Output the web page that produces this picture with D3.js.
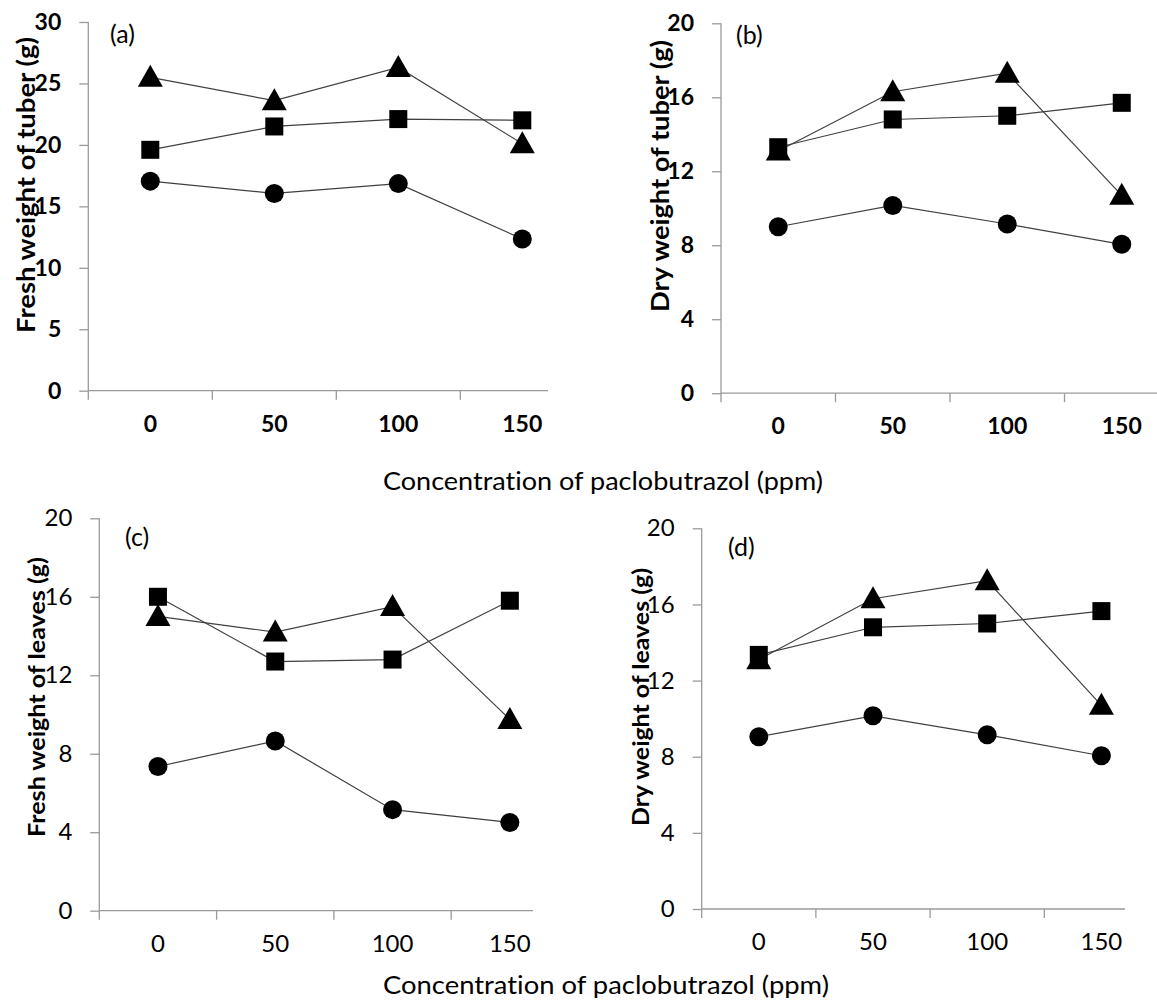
<!DOCTYPE html>
<html>
<head>
<meta charset="utf-8">
<script src="https://cdn.jsdelivr.net/npm/d3@7"></script>
<style>
  html, body { margin: 0; padding: 0; background: #fff; }
  svg { display: block; }
  text { font-family: Lato, "Open Sans", sans-serif; fill: #000; font-variant-ligatures: none; }
</style>
</head>
<body>
<div id="chart"></div>
<script>
// categorias do eixo x (ppm)
const concentrations = ["0", "50", "100", "150"];

// (a) peso fresco do tubérculo
const freshTuberCircle   = [17.05, 16.05, 16.85, 12.35];
const freshTuberSquare   = [19.6, 21.5, 22.1, 22.0];
const freshTuberTriangle = [25.5, 23.6, 26.3, 20.1];

// (b) peso seco do tubérculo
const dryTuberCircle   = [9.0, 10.15, 9.15, 8.05];
const dryTuberSquare   = [13.3, 14.8, 15.0, 15.7];
const dryTuberTriangle = [13.1, 16.3, 17.3, 10.7];

// (c) peso fresco das folhas
const freshLeafCircle   = [7.35, 8.65, 5.15, 4.5];
const freshLeafSquare   = [16.0, 12.7, 12.8, 15.8];
const freshLeafTriangle = [15.0, 14.2, 15.5, 9.75];

// (d) peso seco das folhas
const dryLeafCircle   = [9.05, 10.15, 9.15, 8.05];
const dryLeafSquare   = [13.35, 14.8, 15.0, 15.65];
const dryLeafTriangle = [13.1, 16.3, 17.25, 10.7];

const ticksTuberFresh = [0, 5, 10, 15, 20, 25, 30];
const ticks20 = [0, 4, 8, 12, 16, 20];

const xTitle = "Concentration of paclobutrazol (ppm)";

const W = 1157, H = 1000;
const svg = d3.select('#chart').append('svg')
    .attr('width', W).attr('height', H);

const panels = [
    { tag: '(a)', title: 'Fresh weight of tuber (g)', ticks: ticksTuberFresh, max: 30,
      x0: 88.3, band: 124, xEnd: 548, y0: 390.7, yTop: 22, bold: true,
      tagX: 110, tagY: 43, titleX: 35, titleY: 185, titleLen: 296, titleSize: 24,
      circle: freshTuberCircle, square: freshTuberSquare, triangle: freshTuberTriangle },
    { tag: '(b)', title: 'Dry weight of tuber (g)', ticks: ticks20, max: 20,
      x0: 721, band: 114.5, xEnd: 1157, y0: 393.2, yTop: 23.3, bold: true,
      tagX: 736, tagY: 44, titleX: 669, titleY: 176, titleLen: 272, titleSize: 24,
      circle: dryTuberCircle, square: dryTuberSquare, triangle: dryTuberTriangle },
    { tag: '(c)', title: 'Fresh weight of leaves (g)', ticks: ticks20, max: 20,
      x0: 99.3, band: 117.3, xEnd: 533, y0: 910.7, yTop: 518.3, bold: false,
      tagX: 125, tagY: 546, titleX: 45, titleY: 697, titleLen: 280, titleSize: 22,
      circle: freshLeafCircle, square: freshLeafSquare, triangle: freshLeafTriangle },
    { tag: '(d)', title: 'Dry weight of leaves (g)', ticks: ticks20, max: 20,
      x0: 701.7, band: 114.2, xEnd: 1125, y0: 909, yTop: 528.3, bold: false,
      tagX: 728, tagY: 556, titleX: 649, titleY: 697, titleLen: 258, titleSize: 22,
      circle: dryLeafCircle, square: dryLeafSquare, triangle: dryLeafTriangle },
];

const axisColor = '#9a9a9a';
const lineColor = '#404040';
const triPath = 'M0,-12.5L12.5,9.5L-12.5,9.5Z';

panels.forEach(p => {
    const g = svg.append('g');

    const x = d3.scaleBand()
        .domain(concentrations)
        .range([p.x0, p.x0 + p.band * concentrations.length])
        .paddingInner(0).paddingOuter(0);
    const y = d3.scaleLinear().domain([0, p.max]).range([p.y0, p.yTop]);

    const tickFont = p.bold ? '23px' : '24px';

    // eixo y
    const yAxis = g.append('g')
        .attr('transform', `translate(${p.x0},0)`)
        .call(d3.axisLeft(y).tickValues(p.ticks).tickSize(9).tickPadding(18));
    yAxis.select('.domain').remove();
    yAxis.selectAll('.tick line').attr('stroke', axisColor).attr('stroke-width', 1.3);
    yAxis.selectAll('.tick text')
        .attr('font-size', tickFont)
        .attr('font-weight', p.bold ? 700 : 400)
        .attr('fill', p.bold ? '#000' : '#333')
        .attr('font-family', 'Lato, sans-serif');
    g.append('line')
        .attr('x1', p.x0).attr('x2', p.x0)
        .attr('y1', y(p.max)).attr('y2', y(0) + 9)
        .attr('stroke', axisColor).attr('stroke-width', 1.3);

    // eixo x
    g.append('line')
        .attr('x1', p.x0).attr('x2', p.xEnd)
        .attr('y1', y(0)).attr('y2', y(0))
        .attr('stroke', axisColor).attr('stroke-width', 1.3);
    concentrations.forEach((c, i) => {
        if (i > 0) {
            g.append('line')
                .attr('x1', x(c)).attr('x2', x(c))
                .attr('y1', y(0)).attr('y2', y(0) + 9)
                .attr('stroke', axisColor).attr('stroke-width', 1.3);
        }
        g.append('text')
            .attr('x', x(c) + x.bandwidth() / 2)
            .attr('y', y(0) + 41)
            .attr('text-anchor', 'middle')
            .attr('font-size', tickFont)
            .attr('font-weight', p.bold ? 700 : 400)
            .attr('fill', p.bold ? '#000' : '#333')
            .text(c);
    });

    // título do eixo y
    g.append('text')
        .attr('transform', `translate(${p.titleX},${p.titleY}) rotate(-90)`)
        .attr('text-anchor', 'middle')
        .attr('font-size', p.titleSize + 'px')
        .attr('font-weight', 700)
        .attr('textLength', p.titleLen)
        .attr('lengthAdjust', 'spacingAndGlyphs')
        .text(p.title);

    // rótulo do painel
    g.append('text')
        .attr('x', p.tagX).attr('y', p.tagY)
        .attr('font-size', '25px')
        .text(p.tag);

    const cx = c => x(c) + x.bandwidth() / 2;
    const line = d3.line().x((d, i) => cx(concentrations[i])).y(d => y(d));

    [p.circle, p.triangle, p.square].forEach(s => {
        g.append('path')
            .attr('d', line(s))
            .attr('fill', 'none')
            .attr('stroke', lineColor)
            .attr('stroke-width', 1.2);
    });

    // marcadores
    g.selectAll('.circ').data(p.circle).enter().append('circle')
        .attr('cx', (d, i) => cx(concentrations[i]))
        .attr('cy', d => y(d))
        .attr('r', 9.5)
        .attr('fill', '#000');
    g.selectAll('.tri').data(p.triangle).enter().append('path')
        .attr('d', triPath)
        .attr('transform', (d, i) => `translate(${cx(concentrations[i])},${y(d)})`)
        .attr('fill', '#000');
    g.selectAll('.sq').data(p.square).enter().append('rect')
        .attr('x', (d, i) => cx(concentrations[i]) - 9)
        .attr('y', d => y(d) - 9)
        .attr('width', 18).attr('height', 18)
        .attr('fill', '#000');
});

// títulos do eixo x
[[603, 490, 440], [606, 994, 446]].forEach(([tx, ty, len]) => {
    svg.append('text')
        .attr('x', tx).attr('y', ty)
        .attr('text-anchor', 'middle')
        .attr('font-size', '25px')
        .attr('textLength', len)
        .attr('lengthAdjust', 'spacingAndGlyphs')
        .text(xTitle);
});
</script>
</body>
</html>
